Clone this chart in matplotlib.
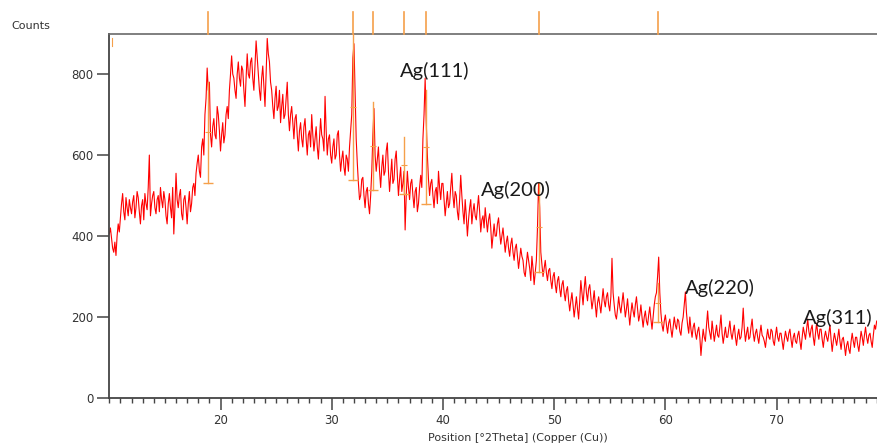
import numpy as np
import matplotlib
matplotlib.use("Agg")
import matplotlib.pyplot as plt
import matplotlib.transforms as mtransforms
from matplotlib.ticker import MultipleLocator

# ---- data (2theta from 10.0 to 79.0 step 0.1) ----
theta_start = 10.0
theta_step = 0.1
counts = [
    405, 420, 395, 370, 360, 385, 352, 400, 430, 410, 445, 480, 505, 460, 440, 495, 470, 450, 490, 470,
    455, 485, 500, 445, 470, 510, 495, 460, 430, 475, 490, 440, 505, 480, 465, 520, 600, 450, 480, 500,
    510, 470, 455, 490, 500, 460, 520, 490, 470, 510, 490, 450, 430, 480, 505, 470, 445, 520, 405, 470,
    555, 490, 470, 500, 515, 455, 440, 490, 500, 470, 430, 480, 510, 460, 480, 520, 530, 500, 555, 580,
    600, 560, 545, 620, 640, 600, 700, 740, 815, 760, 780, 650, 620, 670, 690, 650, 640, 720, 700, 660,
    610, 650, 680, 630, 650, 700, 720, 690, 760, 800, 845, 800, 790, 760, 740, 800, 830, 790, 770, 820,
    810, 760, 720, 790, 850, 800, 790, 830, 840, 790, 760, 820, 882, 840, 800, 760, 735, 790, 820, 770,
    720, 800, 888, 850, 830, 780, 760, 720, 690, 740, 770, 710, 720, 760, 680, 720, 750, 690, 700, 740,
    780, 700, 660, 700, 720, 680, 640, 690, 700, 650, 610, 660, 680, 640, 620, 670, 690, 640, 600, 650,
    660, 620, 700, 650, 610, 640, 670, 620, 590, 640, 690, 650, 640, 610, 745, 660, 600, 640, 650, 600,
    580, 620, 640, 590, 600, 650, 660, 600, 560, 590, 610, 570, 550, 600, 590, 560, 620, 660, 700, 840,
    875, 760, 640, 580, 530, 490, 500, 540, 545, 500, 470, 510, 520, 480, 455, 500, 560, 650, 715, 600,
    560, 590, 620, 560, 520, 570, 600, 550, 560, 610, 630, 560, 510, 550, 590, 530, 540, 590, 610, 550,
    500, 540, 570, 510, 530, 560, 415, 500, 560, 520, 490, 530, 540, 500, 470, 510, 520, 460, 480, 520,
    550, 520, 640, 700, 790, 680, 600, 540, 500, 530, 540, 500, 470, 510, 520, 480, 560, 520, 490, 530,
    530, 490, 450, 480, 510, 470, 480, 520, 555, 500, 470, 510, 500, 460, 440, 490, 550, 500, 460, 430,
    490, 450, 400, 440, 470, 490, 430, 460, 480, 450, 440, 470, 500, 460, 410, 440, 450, 420, 470, 440,
    410, 440, 455, 420, 370, 400, 430, 400, 400, 430, 445, 410, 380, 400, 420, 390, 360, 385, 400, 370,
    350, 380, 395, 360, 340, 370, 380, 350, 320, 345, 370, 350, 340, 310, 300, 330, 360, 340, 320, 290,
    350, 320, 280, 310, 340, 420, 530, 470, 360, 330, 300, 320, 340, 310, 290, 315, 320, 290, 270, 300,
    310, 280, 260, 290, 300, 270, 250, 280, 290, 260, 240, 265, 275, 240, 215, 240, 260, 230, 200, 225,
    250, 220, 195, 240, 290, 260, 230, 270, 300, 260, 240, 270, 280, 250, 220, 240, 265, 230, 200, 235,
    250, 230, 210, 240, 270, 240, 225, 250, 260, 230, 215, 250, 345, 260, 230, 205, 195, 220, 250, 225,
    210, 235, 260, 230, 200, 220, 245, 210, 180, 210, 235, 215, 200, 230, 250, 220, 190, 205, 230, 200,
    175, 200, 215, 190, 180, 205, 225, 195, 170, 200, 230, 250, 260, 300, 348, 260, 210, 180, 165, 190,
    205, 180, 160, 185, 195, 170, 150, 175, 200, 180, 170, 195, 190, 165, 155, 185, 200, 230, 262, 210,
    180, 160, 200, 170, 150, 175, 185, 160, 145, 165, 175, 150, 105, 140, 170, 150, 140, 180, 215, 175,
    160, 145, 190, 165, 140, 160, 180, 155, 150, 175, 205, 160, 135, 155, 175, 150, 150, 170, 190, 160,
    145, 165, 180, 150, 130, 155, 170, 145, 150, 175, 222, 170, 140, 160, 175, 145, 150, 175, 195, 160,
    140, 160, 170, 150, 135, 160, 180, 155, 150, 140, 125, 150, 170, 150, 145, 170, 165, 140, 130, 155,
    175, 150, 140, 160, 160, 140, 120, 145, 165, 150, 140, 160, 170, 145, 125, 150, 160, 140, 135, 155,
    165, 140, 120, 150, 175, 160, 145, 170, 195, 165, 150, 170, 180, 150, 130, 160, 185, 160, 145, 170,
    170, 145, 125, 150, 165, 150, 140, 160, 180, 145, 115, 140, 160, 145, 130, 150, 170, 140, 120, 145,
    150, 130, 105, 130, 140, 120, 110, 140, 160, 140, 125, 150, 150, 130, 115, 140, 165, 150, 130, 155,
    175, 150, 135, 155, 160, 140, 125, 155, 180, 170, 190,
]
theta = theta_start + theta_step * np.arange(len(counts))

# reference stick pattern (position, low, high)
stick_pos = [18.88, 31.94, 33.69, 36.50, 38.45, 48.64, 59.34]
stick_low = [532, 538, 513, 504, 479, 312, 188]
stick_high = [781, 900, 732, 645, 760, 531, 283]

labels = ["Ag(111)", "Ag(200)", "Ag(220)", "Ag(311)"]
label_x = [36.1, 43.4, 61.8, 72.4]
label_y = [807, 513, 272, 198]

x_ticks = [20, 30, 40, 50, 60, 70]
y_ticks = [0, 200, 400, 600, 800]

# ---- figure ----
W, H = 877, 445
fig = plt.figure(figsize=(W / 100, H / 100), dpi=100)
ax = fig.add_axes([109.3 / W, 1 - 398 / H, (877 - 109.3) / W, (398 - 34) / H])

orange = "#f5a04a"
ax.plot(theta, counts, color="#ff0000", lw=0.8, zorder=2)

for p, lo, hi in zip(stick_pos, stick_low, stick_high):
    ax.plot([p, p], [lo, hi], color=orange, lw=1.0, zorder=3, clip_on=True)
    ax.plot([p], [lo], marker="_", ms=7, mew=1.0, color=orange, zorder=3)
    ax.plot([p], [(lo + hi) / 2], marker="_", ms=4, mew=0.8, color=orange, zorder=3)

# small mark near the left top
ax.plot([10.25, 10.25], [870, 890], color=orange, lw=0.8, zorder=3)

# ticks above the top axis
trans = mtransforms.blended_transform_factory(ax.transData, ax.transAxes)
for p in stick_pos:
    ax.plot([p, p], [1.0, 1.0 + 22 / 364], color=orange, lw=1.2,
            transform=trans, clip_on=False, zorder=3)

for t, lx, ly in zip(labels, label_x, label_y):
    ax.text(lx, ly, t, fontsize=14.5, family="Lato", color="#1a1a1a",
            ha="left", va="center", zorder=4)

ax.set_xlim(10, 79.03)
ax.set_ylim(0, 899)
ax.set_xticks(x_ticks)
ax.set_yticks(y_ticks)
ax.xaxis.set_minor_locator(MultipleLocator(1))

ax.spines["right"].set_visible(False)
ax.spines["top"].set_color("#6a6a6a")
ax.spines["top"].set_linewidth(1.2)
for s in ["left", "bottom"]:
    ax.spines[s].set_color("#444444")
    ax.spines[s].set_linewidth(1.3)

ax.tick_params(axis="both", which="major", direction="out", length=8.5,
               width=1.1, color="#444444", labelsize=8.5, labelcolor="#333333",
               pad=2)
ax.tick_params(axis="x", which="minor", direction="out", length=3.5,
               width=1.0, color="#444444")
ax.tick_params(axis="x", which="major", pad=3)
ax.tick_params(axis="y", which="major", pad=3)

fig.text(11 / W, 1 - 26 / H, "Counts", fontsize=8, color="#333333",
         ha="left", va="center")
fig.text(518 / W, 1 - 438 / H, "Position [°2Theta] (Copper (Cu))",
         fontsize=8, color="#333333", ha="center", va="center")

fig.savefig("out.png", dpi=100)
